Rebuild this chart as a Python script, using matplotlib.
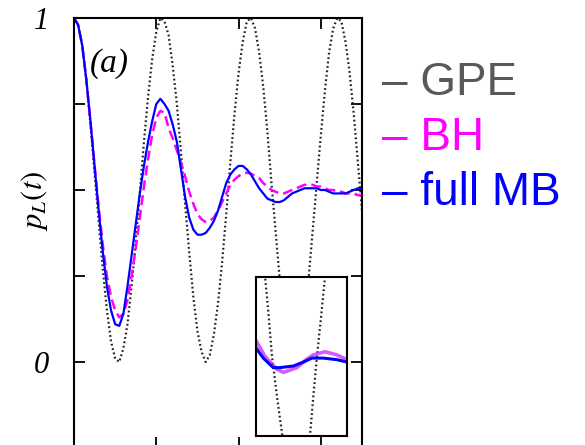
import numpy as np
import matplotlib
matplotlib.use("Agg")
import matplotlib.pyplot as plt

plt.rcParams['mathtext.fontset'] = 'stix'

# time grid of the sampled curves
t = np.linspace(0, 3.5, 71)

# population of the left well, mean-field (GPE)
p_gpe = [1.00, 0.98, 0.92, 0.82, 0.69, 0.55, 0.41, 0.27, 0.15, 0.06,
         0.01, 0.00, 0.04, 0.11, 0.22, 0.35, 0.49, 0.64, 0.77, 0.88,
         0.96, 1.00, 0.99, 0.95, 0.86, 0.75, 0.61, 0.46, 0.32, 0.19,
         0.09, 0.03, 0.00, 0.02, 0.08, 0.17, 0.29, 0.43, 0.58, 0.72,
         0.84, 0.93, 0.99, 1.00, 0.97, 0.90, 0.80, 0.67, 0.52, 0.38,
         0.24, 0.13, 0.05, 0.01, 0.01, 0.05, 0.13, 0.24, 0.38, 0.52,
         0.66, 0.79, 0.90, 0.97, 1.00, 0.99, 0.93, 0.84, 0.72, 0.58,
         0.44]

# Bose-Hubbard result
p_bh = [1.00, 0.98, 0.92, 0.82, 0.70, 0.57, 0.45, 0.34, 0.25, 0.19,
        0.15, 0.13, 0.14, 0.18, 0.25, 0.33, 0.42, 0.51, 0.59, 0.66,
        0.71, 0.73, 0.725, 0.68, 0.65, 0.615, 0.58, 0.54, 0.495, 0.46,
        0.43, 0.415, 0.407, 0.41, 0.42, 0.44, 0.465, 0.49, 0.515, 0.53,
        0.54, 0.548, 0.55, 0.548, 0.54, 0.535, 0.52, 0.51, 0.50, 0.495,
        0.49, 0.49, 0.495, 0.50, 0.505, 0.51, 0.515, 0.515, 0.515, 0.51,
        0.51, 0.505, 0.50, 0.50, 0.495, 0.495, 0.49, 0.49, 0.49, 0.485,
        0.485]

# full many-body result
p_mb = [1.00, 0.98, 0.92, 0.82, 0.70, 0.57, 0.44, 0.32, 0.22, 0.15,
        0.11, 0.105, 0.14, 0.22, 0.31, 0.40, 0.49, 0.57, 0.64, 0.70,
        0.75, 0.765, 0.75, 0.73, 0.69, 0.64, 0.56, 0.48, 0.42, 0.385,
        0.37, 0.37, 0.375, 0.39, 0.41, 0.44, 0.48, 0.52, 0.545, 0.56,
        0.57, 0.57, 0.56, 0.545, 0.525, 0.505, 0.49, 0.475, 0.47, 0.465,
        0.465, 0.47, 0.48, 0.49, 0.495, 0.50, 0.505, 0.505, 0.505, 0.505,
        0.50, 0.50, 0.495, 0.49, 0.49, 0.49, 0.49, 0.495, 0.50, 0.505,
        0.505]

# inset (zoomed view, arbitrary units)
ins_gpe_u = [0.08, 0.10, 0.14, 0.176, 0.23, 0.29, 0.32, 0.44, 0.57, 0.593, 0.63, 0.67, 0.715, 0.758, 0.78]
ins_gpe_v = [1.10, 1.00, 0.75, 0.50, 0.25, 0.00, -0.15, -0.80, -0.15, 0.00, 0.25, 0.50, 0.75, 1.00, 1.10]
ins_mb_u = [0.00, 0.08, 0.19, 0.26, 0.41, 0.52, 0.615, 0.74, 0.89, 1.00]
ins_mb_v = [0.553, 0.49, 0.43, 0.43, 0.44, 0.465, 0.49, 0.49, 0.48, 0.465]
ins_bh_u = [0.00, 0.10, 0.23, 0.30, 0.45, 0.55, 0.63, 0.76, 0.89, 1.00]
ins_bh_v = [0.60, 0.50, 0.42, 0.40, 0.43, 0.48, 0.51, 0.53, 0.51, 0.48]

fig = plt.figure(figsize=(5.85, 4.45), dpi=100)
ax = fig.add_axes([74 / 585, -3 / 445, 288 / 585, 430 / 445])

ax.plot(t, p_gpe, color='#222222', lw=1.6, ls=(0, (0.8, 1.2)))
ax.plot(t, p_bh, color='#ff00ff', lw=1.8, ls=(0, (4, 2)))
ax.plot(t, p_mb, color='#0000ff', lw=1.6)

ax.set_xlim(0, 3.5)
ax.set_ylim(-0.25, 1)
ax.set_xticks([1, 2, 3])
ax.set_xticklabels([])
ax.set_yticks([0, 0.25, 0.5, 0.75, 1])
ax.set_yticklabels(['0', '', '', '', '1'], fontfamily='Liberation Serif',
                   fontstyle='italic', fontsize=22)
ax.tick_params(direction='in', length=8, width=1.3, top=True, right=True, pad=18)
for s in ax.spines.values():
    s.set_linewidth(1.5)

ax.set_ylabel(r'$p_L(t)$', fontsize=22)
ax.yaxis.set_label_coords(-0.085, 0.575)
ax.text(0.055, 0.875, '(a)', transform=ax.transAxes, fontsize=24,
        fontfamily='Liberation Serif', fontstyle='italic')

# inset
axi = fig.add_axes([256 / 585, 9 / 445, 91 / 585, 159 / 445])
axi.plot(ins_gpe_u, ins_gpe_v, color='#222222', lw=1.6, ls=(0, (0.8, 1.2)))
axi.plot(ins_bh_u, ins_bh_v, color='#cc33ff', lw=2.6, alpha=0.8)
axi.plot(ins_mb_u, ins_mb_v, color='#0000ff', lw=2.2)
axi.set_xlim(0, 1)
axi.set_ylim(0, 1)
axi.set_xticks([])
axi.set_yticks([])
for s in axi.spines.values():
    s.set_linewidth(1.5)

# legend as coloured text
legend_items = ['\u2013 GPE', '\u2013 BH', '\u2013 full MB']
legend_colors = ['#595959', '#ff00ff', '#0000ff']
for i, (lab, col) in enumerate(zip(legend_items, legend_colors)):
    fig.text(382 / 585, 1 - (95 + 55 * i) / 445, lab, color=col, fontsize=33,
             fontfamily='Liberation Sans', va='baseline', ha='left')

fig.savefig('out.png', dpi=100)
